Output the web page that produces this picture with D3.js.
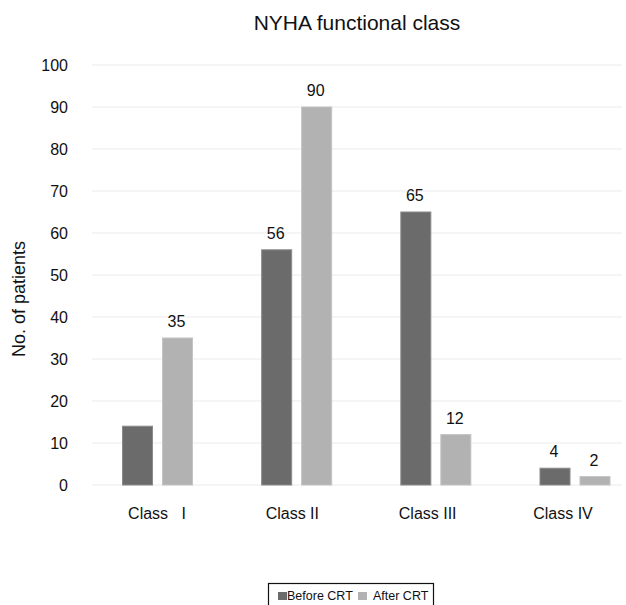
<!DOCTYPE html>
<html>
<head>
<meta charset="utf-8">
<script src="https://cdn.jsdelivr.net/npm/d3@7"></script>
<style>
  body { margin: 0; background: #fff; }
  text { font-family: "Liberation Sans", Arial, sans-serif; fill: #111; }
</style>
</head>
<body>
<script>
// data
var categories = ["Class   I", "Class II", "Class III", "Class IV"];
var beforeCRT = [14, 56, 65, 4];
var afterCRT = [35, 90, 12, 2];
var beforeLabels = [null, "56", "65", "4"];
var afterLabels = ["35", "90", "12", "2"];
var yTicks = [0, 10, 20, 30, 40, 50, 60, 70, 80, 90, 100];
var seriesNames = ["Before CRT", "After CRT"];
var colors = ["#6b6b6b", "#b2b2b2"];

var width = 626, height = 605;

var svg = d3.select("body").append("svg")
    .attr("width", width)
    .attr("height", height);

// bar group centres
var x = d3.scalePoint()
    .domain(categories)
    .range([157.5, 575]);

// category labels sit a little left of the groups in the original
var xLab = d3.scalePoint()
    .domain(categories)
    .range([157, 563]);

var y = d3.scaleLinear()
    .domain([0, 100])
    .range([485, 65]);

// gridlines
svg.selectAll("line.grid")
    .data(yTicks)
    .enter().append("line")
    .attr("class", "grid")
    .attr("x1", 92)
    .attr("x2", 622)
    .attr("y1", function(d) { return y(d); })
    .attr("y2", function(d) { return y(d); })
    .attr("stroke", "#ebebeb")
    .attr("stroke-width", 1.2);

// y tick labels
svg.selectAll("text.ytick")
    .data(yTicks)
    .enter().append("text")
    .attr("class", "ytick")
    .attr("x", 68)
    .attr("y", function(d) { return y(d) + 6; })
    .attr("text-anchor", "end")
    .attr("font-size", 16)
    .text(function(d) { return d; });

// bars
var series = [beforeCRT, afterCRT];
var offsets = [-35, 5];
series.forEach(function(vals, s) {
  svg.selectAll("rect.s" + s)
      .data(vals)
      .enter().append("rect")
      .attr("class", "s" + s)
      .attr("x", function(d, i) { return x(categories[i]) + offsets[s]; })
      .attr("y", function(d) { return y(d); })
      .attr("width", 30)
      .attr("height", function(d) { return y(0) - y(d); })
      .attr("fill", colors[s])
      .attr("stroke", s == 0 ? "#8a8a8a" : "#c4c4c4")
      .attr("stroke-width", 1);
});

// value labels
var labels = [beforeLabels, afterLabels];
labels.forEach(function(labs, s) {
  svg.selectAll("text.v" + s)
      .data(labs)
      .enter().append("text")
      .attr("class", "v" + s)
      .attr("x", function(d, i) { return x(categories[i]) + offsets[s] + 14; })
      .attr("y", function(d, i) { return y(series[s][i]) - 11; })
      .attr("text-anchor", "middle")
      .attr("font-size", 16)
      .text(function(d) { return d; });
});

// category labels
svg.selectAll("text.cat")
    .data(categories)
    .enter().append("text")
    .attr("class", "cat")
    .attr("x", function(d) { return xLab(d); })
    .attr("y", 519)
    .attr("text-anchor", "middle")
    .attr("font-size", 16)
    .style("white-space", "pre")
    .text(function(d) { return d; });

// title
svg.append("text")
    .attr("x", 357)
    .attr("y", 30)
    .attr("text-anchor", "middle")
    .attr("font-size", 21)
    .text("NYHA functional class");

// y axis title
svg.append("text")
    .attr("transform", "translate(25,299) rotate(-90)")
    .attr("text-anchor", "middle")
    .attr("font-size", 18)
    .text("No. of patients");

// legend
var legend = svg.append("g").attr("transform", "translate(268,583)");
legend.append("rect")
    .attr("x", 0.5)
    .attr("y", 0.5)
    .attr("width", 165)
    .attr("height", 30)
    .attr("fill", "#fff")
    .attr("stroke", "#111")
    .attr("stroke-width", 1.2);
var legX = [10, 90];
var legTextX = [19, 105];
seriesNames.forEach(function(name, s) {
  legend.append("rect")
      .attr("x", legX[s])
      .attr("y", 9)
      .attr("width", 9)
      .attr("height", 8)
      .attr("fill", colors[s]);
  legend.append("text")
      .attr("x", legTextX[s])
      .attr("y", 17)
      .attr("font-size", 12.5)
      .text(name);
});
</script>
</body>
</html>
